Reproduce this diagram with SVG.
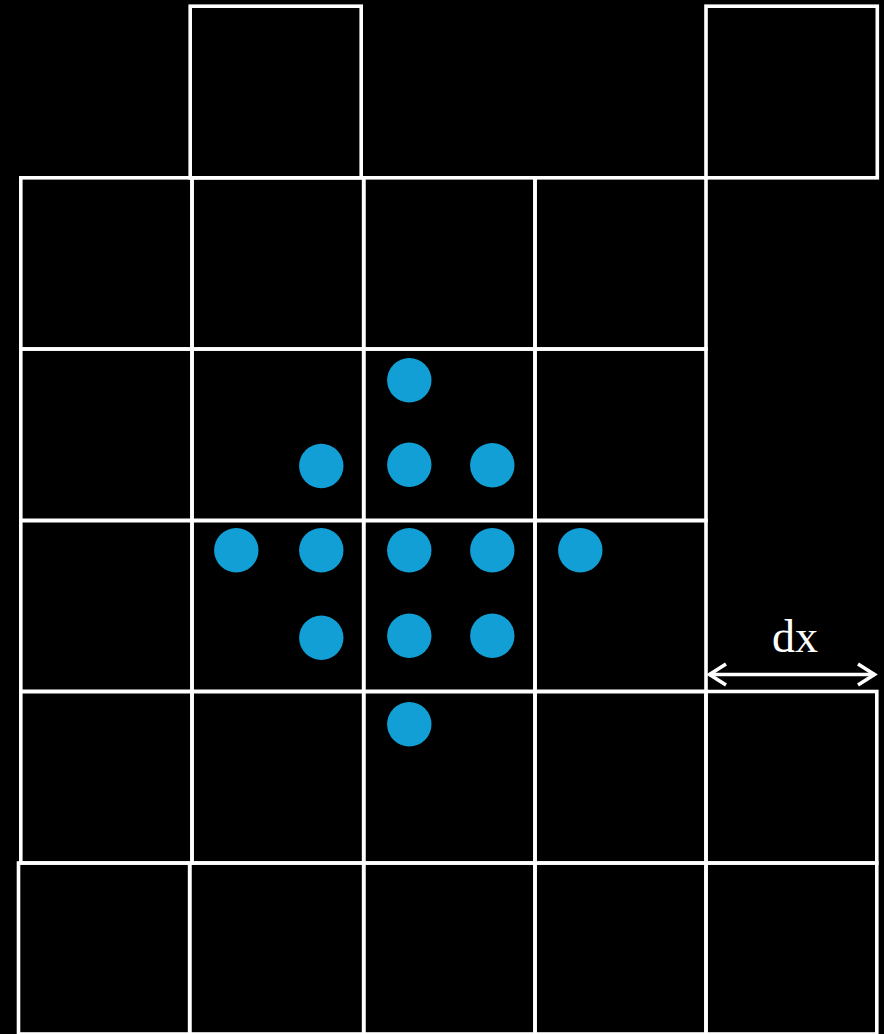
<svg xmlns="http://www.w3.org/2000/svg" width="884" height="1034" viewBox="0 0 884 1034">
<style>
.c{fill:none;stroke:#fff;stroke-width:3.6}
.d{fill:#129fd6}
.t{font-family:"Liberation Serif",serif;font-size:46px;fill:#fff}
</style>
<rect width="884" height="1034" fill="#000"/>
<g id="grid">
<rect class="c" x="190.2" y="6.2" width="171" height="171.6"/>
<rect class="c" x="706" y="6.2" width="171.3" height="171.6"/>
<g id="row1">
<rect class="c" x="20.8" y="177.8" width="171.2" height="171.2"/>
<rect class="c" x="192" y="177.8" width="171.7" height="171.2"/>
<rect class="c" x="363.7" y="177.8" width="171.3" height="171.2"/>
<rect class="c" x="535" y="177.8" width="171" height="171.2"/>
</g>
<g id="row2">
<rect class="c" x="20.8" y="349" width="171.2" height="171.5"/>
<rect class="c" x="192" y="349" width="171.7" height="171.5"/>
<rect class="c" x="363.7" y="349" width="171.3" height="171.5"/>
<rect class="c" x="535" y="349" width="171" height="171.5"/>
</g>
<g id="row3">
<rect class="c" x="20.8" y="520.5" width="171.2" height="171"/>
<rect class="c" x="192" y="520.5" width="171.7" height="171"/>
<rect class="c" x="363.7" y="520.5" width="171.3" height="171"/>
<rect class="c" x="535" y="520.5" width="171" height="171"/>
</g>
<g id="row4">
<rect class="c" x="20.8" y="691.5" width="171.2" height="171.5"/>
<rect class="c" x="192" y="691.5" width="171.7" height="171.5"/>
<rect class="c" x="363.7" y="691.5" width="171.3" height="171.5"/>
<rect class="c" x="535" y="691.5" width="171" height="171.5"/>
<rect class="c" x="706" y="691.5" width="170.8" height="171.5"/>
</g>
<g id="row5">
<rect class="c" x="18.5" y="863" width="171.2" height="171"/>
<rect class="c" x="189.7" y="863" width="174" height="171"/>
<rect class="c" x="363.7" y="863" width="171.3" height="171"/>
<rect class="c" x="535" y="863" width="171" height="171"/>
<rect class="c" x="706" y="863" width="170.8" height="171"/>
</g>
</g>
<g id="dots">
<circle class="d" cx="409.3" cy="380.3" r="22.2"/>
<circle class="d" cx="321.3" cy="466" r="22.2"/>
<circle class="d" cx="409.3" cy="464.7" r="22.2"/>
<circle class="d" cx="492.3" cy="465.3" r="22.2"/>
<circle class="d" cx="236.3" cy="550.3" r="22.2"/>
<circle class="d" cx="321.3" cy="550.3" r="22.2"/>
<circle class="d" cx="409.3" cy="550.3" r="22.2"/>
<circle class="d" cx="492.3" cy="550.3" r="22.2"/>
<circle class="d" cx="580.3" cy="550.3" r="22.2"/>
<circle class="d" cx="321.3" cy="637.7" r="22.2"/>
<circle class="d" cx="409.3" cy="635.7" r="22.2"/>
<circle class="d" cx="492.3" cy="635.7" r="22.2"/>
<circle class="d" cx="409.3" cy="724.3" r="22.2"/>
</g>
<g id="connectors">
<line x1="709" y1="674.5" x2="875" y2="674.5" stroke="#fff" stroke-width="3.6"/>
<polyline points="726,664 709.5,674.5 726,685" fill="none" stroke="#fff" stroke-width="3.6"/>
<polyline points="858,664 874.5,674.5 858,685" fill="none" stroke="#fff" stroke-width="3.6"/>
</g>
<g id="label">
<text class="t" x="795" y="652" text-anchor="middle">dx</text>
</g>
</svg>
